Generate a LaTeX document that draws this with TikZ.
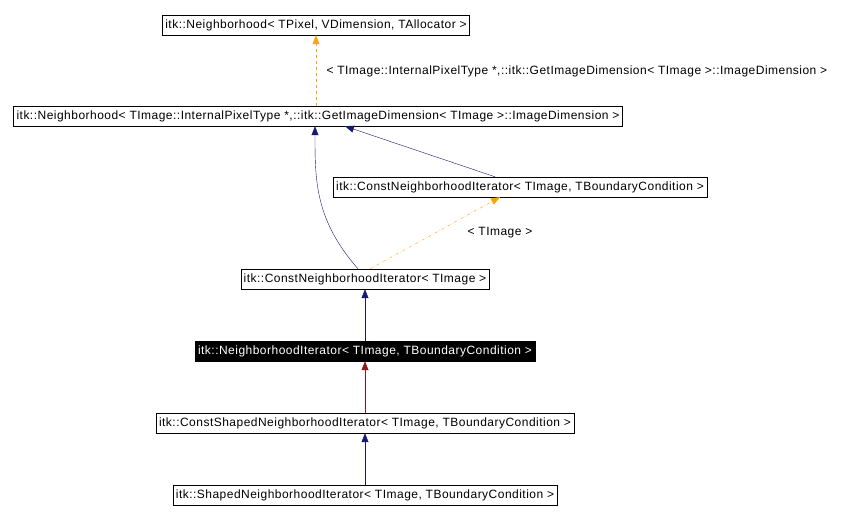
\documentclass[tikz,border=0pt]{standalone}
\usepackage{fontspec}
\setmainfont{Liberation Sans}[LetterSpace=4]
\usetikzlibrary{positioning,arrows.meta}
\definecolor{navy}{HTML}{191970}
\definecolor{darkred}{HTML}{8B1A1A}
\definecolor{tmplorange}{HTML}{FFA500}

\begin{document}
\begin{tikzpicture}[
        x=1pt, y=-1pt,
        cls/.style={
            rectangle,
            draw,
            inner xsep=3pt,
            inner ysep=0pt,
            minimum height=20pt,
            font=\fontsize{12}{14}\selectfont
        },
        current/.style={
            cls,
            fill=black,
            text=white
        },
        inherit/.style={
            -{Triangle[length=9pt,width=7pt]},
            draw=navy
        },
        tmpl/.style={
            -{Triangle[length=9pt,width=7pt]},
            draw=tmplorange
        },
        lbl/.style={
            font=\fontsize{12}{14}\selectfont
        }
    ]
    \useasboundingbox (0,0) rectangle (841,518);

    % Neighborhood classes
    \node[cls] (nbhd) at (316,25) {itk::Neighborhood< TPixel, VDimension, TAllocator >};
    \node[cls] (nbhdimg) at (318,116) {itk::Neighborhood< TImage::InternalPixelType *,::itk::GetImageDimension< TImage >::ImageDimension >};

    % Const iterators
    \node[cls] (constbc) at (520,187) {itk::ConstNeighborhoodIterator< TImage, TBoundaryCondition >};
    \node[cls] (constimg) at (365,279) {itk::ConstNeighborhoodIterator< TImage >};

    % This class and its descendants
    \node[current] (iter) at (365,351) {itk::NeighborhoodIterator< TImage, TBoundaryCondition >};
    \node[cls] (constshaped) at (365,423) {itk::ConstShapedNeighborhoodIterator< TImage, TBoundaryCondition >};
    \node[cls] (shaped) at (365,495) {itk::ShapedNeighborhoodIterator< TImage, TBoundaryCondition >};

    % Template instantiations
    \draw[tmpl, dashed] (nbhdimg.north -| nbhd.south) -- (nbhd.south);
    \node[lbl, anchor=west] at (323,71) {< TImage::InternalPixelType *,::itk::GetImageDimension< TImage >::ImageDimension >};
    \draw[tmpl, dash dot] (constimg.north) ++(5,0) -- (constbc.south -| 500,0);
    \node[lbl] at (500,233) {< TImage >};

    % Inheritance
    \draw[inherit] (constimg.north) ++(-7,0) .. controls (315,220) and (315,180) .. (nbhdimg.south -| 315,0);
    \draw[inherit] (constbc.north -| 495,0) -- (nbhdimg.south -| 345,0);
    \draw[inherit] (iter) -- (constimg);
    \draw[inherit, draw=darkred] (constshaped) -- (iter);
    \draw[inherit] (shaped) -- (constshaped);

\end{tikzpicture}
\end{document}
